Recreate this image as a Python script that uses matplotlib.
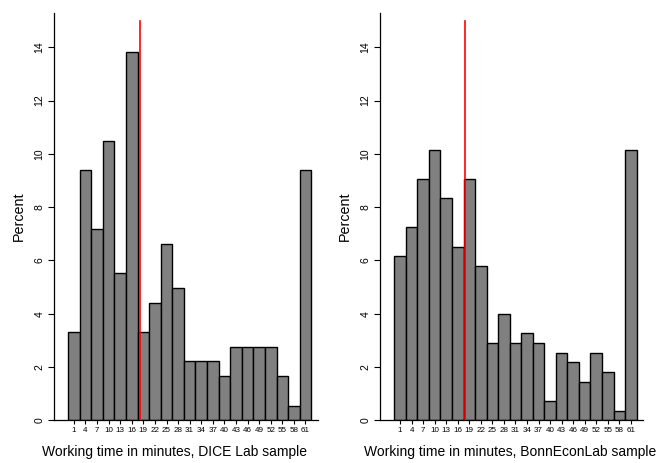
import numpy as np
import matplotlib
matplotlib.use("Agg")
import matplotlib.pyplot as plt

plt.rcParams['font.family'] = ['Liberation Sans', 'DejaVu Sans']

# bins of working time (minutes), bin centres
minutes = list(range(1, 62, 3))

# percent per bin
dice_pct = [3.31, 9.39, 7.18, 10.50, 5.52, 13.81, 3.31, 4.42, 6.63, 4.97, 2.21,
            2.21, 2.21, 1.66, 2.76, 2.76, 2.76, 2.76, 1.66, 0.55, 9.39]
bonn_pct = [6.16, 7.25, 9.06, 10.14, 8.33, 6.52, 9.06, 5.80, 2.90, 3.99, 2.90,
            3.26, 2.90, 0.72, 2.54, 2.17, 1.45, 2.54, 1.81, 0.36, 10.14]

# red reference lines (mean working time)
dice_mean = 18.2
bonn_mean = 17.8

labels = ["Working time in minutes, DICE Lab sample",
          "Working time in minutes, BonnEconLab sample"]
label_x = [0.458, 0.493]

fig = plt.figure(figsize=(6.57, 4.63), dpi=100)
ax1 = fig.add_axes([54 / 657, 42.7 / 463, 264 / 657, 407.6 / 463])
ax2 = fig.add_axes([380.3 / 657, 42.7 / 463, 263 / 657, 407.6 / 463])

for ax, pct, mean, lab, lx in zip([ax1, ax2], [dice_pct, bonn_pct],
                                  [dice_mean, bonn_mean], labels, label_x):
    ax.bar(minutes, pct, width=3, color='#808080', edgecolor='black',
           linewidth=1.0, zorder=2)
    ax.plot([mean, mean], [0, 15], color='red', linewidth=1.2, zorder=3)
    ax.set_xlim(-4.15, 64.25)
    ax.set_ylim(0, 15.3)
    ax.set_yticks(range(0, 15, 2))
    ax.set_xticks(minutes)
    ax.set_xticklabels([str(m) for m in minutes], fontsize=5.8)
    ax.tick_params(axis='x', length=3, width=0.8, pad=2)
    ax.tick_params(axis='y', length=4, width=0.8, labelsize=7.5, pad=3,
                   labelrotation=90)
    for t in ax.get_yticklabels():
        t.set_verticalalignment('center')
    ax.spines['top'].set_visible(False)
    ax.spines['right'].set_visible(False)
    ax.spines['left'].set_linewidth(0.9)
    ax.spines['bottom'].set_linewidth(0.9)
    ax.set_ylabel("Percent", fontsize=10.3, labelpad=6)
    ax.set_xlabel(lab, fontsize=10.0)
    ax.xaxis.set_label_coords(lx, -0.060)

fig.savefig("out.png", dpi=100)
